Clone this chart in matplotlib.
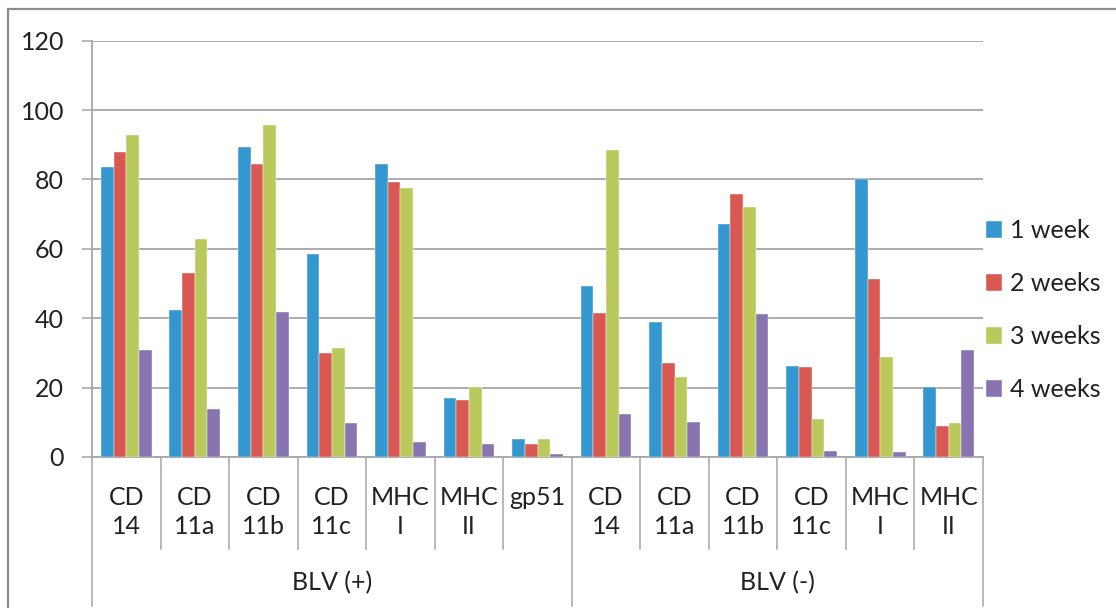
import matplotlib
matplotlib.use("Agg")
import matplotlib.pyplot as plt
import matplotlib.transforms as mtransforms
from matplotlib.patches import Rectangle
import numpy as np

plt.rcParams['font.family'] = ['Lato', 'DejaVu Sans']

categories = ["CD\n14", "CD\n11a", "CD\n11b", "CD\n11c", "MHC\nI", "MHC\nII", "gp51",
              "CD\n14", "CD\n11a", "CD\n11b", "CD\n11c", "MHC\nI", "MHC\nII"]
groups = ["BLV (+)", "BLV (-)"]
group_sizes = [7, 6]
series_names = ["1 week", "2 weeks", "3 weeks", "4 weeks"]
week1 = [83.5, 42.3, 89.5, 58.5, 84.6, 17.0, 5.3, 49.2, 38.8, 67.3, 26.2, 80.1, 20.2]
week2 = [87.9, 52.9, 84.6, 29.9, 79.4, 16.3, 3.7, 41.5, 27.1, 75.9, 25.9, 51.3, 8.9]
week3 = [92.7, 62.9, 95.6, 31.4, 77.4, 20.2, 5.3, 88.4, 23.0, 72.2, 11.0, 28.7, 9.7]
week4 = [30.7, 13.8, 41.9, 9.7, 4.4, 3.7, 0.9, 12.5, 10.1, 41.2, 1.7, 1.3, 30.7]
colors = ["#3597CF", "#D95852", "#B9C95C", "#8874B0"]

W, H = 1116, 608
fig = plt.figure(figsize=(W / 100, H / 100), dpi=100)
fig.patch.set_facecolor("white")

# chart-area border (left/top visible)
fig.add_artist(Rectangle((8 / W, -0.1), 1.2, (H - 9) / H + 0.1, transform=fig.transFigure,
                         fill=False, edgecolor="#8c8c8c", linewidth=1.6))

ax = fig.add_axes([92 / W, (H - 457) / H, (983 - 92) / W, (457 - 40.7) / H])
ax.set_facecolor("white")

n = len(categories)
x = np.arange(n)
bw = 0.185
data = [week1, week2, week3, week4]
for i, (vals, c, name) in enumerate(zip(data, colors, series_names)):
    ax.bar(x + (i - 1.5) * bw, vals, bw, color=c, label=name, zorder=3,
           edgecolor="white", linewidth=0.3)

ax.set_xlim(-0.5, n - 0.5)
ax.set_ylim(0, 120)
ax.set_yticks(np.arange(0, 121, 20))
ax.yaxis.grid(True, color="#a6a6a6", linewidth=1.3, zorder=0)
ax.set_axisbelow(True)
tc = "#222222"
ax.tick_params(axis="y", length=7, width=1.1, color="#a6a6a6", labelsize=18, pad=13, labelcolor=tc)
ax.set_xticks(x)
ax.set_xticklabels(categories, fontsize=18, color=tc, linespacing=1.3, va="top")
ax.tick_params(axis="x", length=0, pad=21)

for s in ["top", "right"]:
    ax.spines[s].set_visible(False)
for s in ["left", "bottom"]:
    ax.spines[s].set_color("#a6a6a6")
    ax.spines[s].set_linewidth(1.3)

trans = mtransforms.blended_transform_factory(ax.transData, ax.transAxes)
ah = (457 - 40.7)
y_short = -(549 - 457) / ah
y_long = -(606 - 457) / ah
# boundaries
bounds = [0]
for g in group_sizes:
    bounds.append(bounds[-1] + g)
group_edges = set(b - 0.5 for b in bounds)
for b in np.arange(-0.5, n, 1.0):
    ylow = y_long if b in group_edges else y_short
    ax.plot([b, b], [0, ylow], transform=trans, color="#a6a6a6", linewidth=1.1,
            clip_on=False, zorder=1)

for gi, name in enumerate(groups):
    center = (bounds[gi] + bounds[gi + 1] - 1) / 2
    ax.text(center, -(583 - 457) / ah, name, transform=trans, ha="center", va="center",
            fontsize=18, color=tc)

leg = ax.legend(loc="center left", bbox_to_anchor=(0.992, 0.352), frameon=False, fontsize=18,
                handlelength=0.65, handleheight=0.65, handletextpad=0.3, labelspacing=1.2,
                borderaxespad=0)
for t in leg.get_texts():
    t.set_color(tc)

fig.savefig("out.png", dpi=100, facecolor="white")
